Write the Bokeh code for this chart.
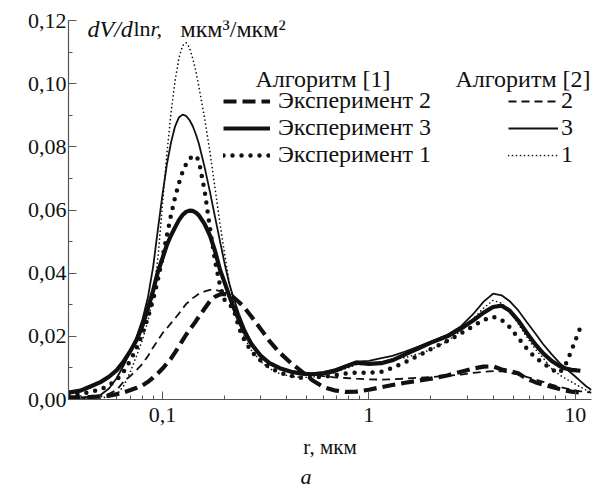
import numpy as np
from bokeh.plotting import figure
from bokeh.models import (FixedTicker, CustomJSTickFormatter, Label, Legend,
                          LegendItem, ColumnDataSource, Title)
from bokeh.embed import file_html
from bokeh.resources import INLINE

NaN = float("nan")

# radius, um
r_um = [0.035, 0.04, 0.045, 0.05, 0.055, 0.06, 0.065, 0.07, 0.075, 0.08,
        0.085, 0.09, 0.095, 0.1, 0.105, 0.11, 0.115, 0.12, 0.125, 0.13,
        0.135, 0.14, 0.145, 0.15, 0.16, 0.17, 0.18, 0.19, 0.2, 0.21,
        0.22, 0.235, 0.25, 0.27, 0.3, 0.33, 0.37, 0.42, 0.47, 0.53,
        0.6, 0.68, 0.77, 0.87, 1.0, 1.15, 1.3, 1.5, 1.75, 2.0,
        2.4, 2.8, 3.2, 3.6, 4.0, 4.4, 4.8, 5.3, 5.8, 6.4,
        7.0, 7.7, 8.4, 9.0, 9.6, 10.2, 10.6, 11.3, 12.0]

# Algorithm [1]
alg1_exp2 = [0.0007, 0.0007, 0.0008, 0.0009, 0.0012, 0.0017, 0.0023, 0.0030, 0.0037, 0.0045,
             0.0056, 0.0069, 0.0083, 0.0098, 0.0114, 0.0130, 0.0149, 0.0168, 0.0187, 0.0205,
             0.0220, 0.0234, 0.0248, 0.0262, 0.0288, 0.0312, 0.0326, 0.0333, 0.0334, 0.0331,
             0.0324, 0.0308, 0.0290, 0.0262, 0.0222, 0.0185, 0.0148, 0.0115, 0.0090, 0.0062,
             0.0040, 0.0029, 0.0024, 0.0025, 0.0031, 0.0039, 0.0046, 0.0053, 0.0060, 0.0066,
             0.0076, 0.0088, 0.0098, 0.0104, 0.0105, 0.0095, 0.0090, 0.0083, 0.0066, 0.0055,
             0.0047, 0.0040, 0.0033, 0.0028, 0.0025, 0.0023, 0.0022, NaN, NaN]
alg1_exp3 = [0.0022, 0.0028, 0.0042, 0.0055, 0.0072, 0.0093, 0.0122, 0.0155, 0.0189, 0.0235,
             0.0290, 0.0345, 0.0405, 0.0448, 0.0490, 0.0520, 0.0545, 0.0568, 0.0584, 0.0594,
             0.0598, 0.0597, 0.0592, 0.0583, 0.0555, 0.0518, 0.0468, 0.0410, 0.0370, 0.0330,
             0.0295, 0.0250, 0.0213, 0.0175, 0.0137, 0.0115, 0.0099, 0.0088, 0.0082, 0.0080,
             0.0083, 0.0090, 0.0104, 0.0117, 0.0113, 0.0115, 0.0124, 0.0143, 0.0163, 0.0180,
             0.0200, 0.0225, 0.0250, 0.0275, 0.0293, 0.0297, 0.0282, 0.0250, 0.0213, 0.0175,
             0.0146, 0.0122, 0.0106, 0.0098, 0.0094, 0.0092, 0.0091, NaN, NaN]
alg1_exp1 = [0.0014, 0.0018, 0.0024, 0.0032, 0.0045, 0.0062, 0.0090, 0.0125, 0.0165, 0.0210,
             0.0260, 0.0315, 0.0380, 0.0450, 0.0520, 0.0585, 0.0640, 0.0685, 0.0720, 0.0745,
             0.0762, 0.0770, 0.0772, 0.0755, 0.0660, 0.0540, 0.0435, 0.0360, 0.0315, 0.0300,
             0.0290, 0.0225, 0.0185, 0.0152, 0.0122, 0.0101, 0.0085, 0.0075, 0.0069, 0.0069,
             0.0072, 0.0076, 0.0082, 0.0085, 0.0084, 0.0088, 0.0100, 0.0118, 0.0140, 0.0160,
             0.0185, 0.0210, 0.0232, 0.0252, 0.0262, 0.0252, 0.0230, 0.0195, 0.0163, 0.0133,
             0.0116, 0.0095, 0.0084, 0.0112, 0.0155, 0.0200, 0.0228, NaN, NaN]

# Algorithm [2]
alg2_exp2 = [0.0003, 0.0004, 0.0006, 0.0010, 0.0018, 0.0030, 0.0058, 0.0075, 0.0094, 0.0113,
             0.0138, 0.0165, 0.0188, 0.0210, 0.0226, 0.0242, 0.0257, 0.0272, 0.0288, 0.0302,
             0.0312, 0.0321, 0.0328, 0.0335, 0.0342, 0.0347, 0.0347, 0.0343, 0.0336, 0.0326,
             0.0310, 0.0260, 0.0215, 0.0178, 0.0142, 0.0117, 0.0100, 0.0090, 0.0085, 0.0080,
             0.0074, 0.0070, 0.0068, 0.0066, 0.0064, 0.0063, 0.0064, 0.0066, 0.0069, 0.0071,
             0.0075, 0.0079, 0.0084, 0.0088, 0.0090, 0.0089, 0.0085, 0.0079, 0.0072, 0.0064,
             0.0056, 0.0047, 0.0040, 0.0035, 0.0031, 0.0028, 0.0026, 0.0024, 0.0022]
alg2_exp3 = [0.0006, 0.0007, 0.0009, 0.0014, 0.0035, 0.0068, 0.0110, 0.0155, 0.0200, 0.0255,
             0.0325, 0.0420, 0.0540, 0.0650, 0.0745, 0.0815, 0.0865, 0.0893, 0.0902, 0.0898,
             0.0885, 0.0866, 0.0840, 0.0810, 0.0735, 0.0655, 0.0575, 0.0500, 0.0430, 0.0370,
             0.0325, 0.0270, 0.0225, 0.0180, 0.0140, 0.0115, 0.0098, 0.0088, 0.0083, 0.0083,
             0.0087, 0.0095, 0.0108, 0.0120, 0.0122, 0.0131, 0.0138, 0.0152, 0.0168, 0.0183,
             0.0205, 0.0232, 0.0270, 0.0310, 0.0335, 0.0330, 0.0312, 0.0282, 0.0247, 0.0210,
             0.0175, 0.0143, 0.0116, 0.0098, 0.0083, 0.0068, 0.0058, 0.0042, 0.0030]
alg2_exp1 = [0.0004, 0.0004, 0.0005, 0.0006, 0.0008, 0.0015, 0.0045, 0.0090, 0.0140, 0.0190,
             0.0250, 0.0325, 0.0450, 0.0620, 0.0780, 0.0910, 0.1010, 0.1080, 0.1120, 0.1130,
             0.1115, 0.1080, 0.1040, 0.0990, 0.0890, 0.0780, 0.0665, 0.0555, 0.0460, 0.0375,
             0.0310, 0.0240, 0.0195, 0.0155, 0.0120, 0.0098, 0.0082, 0.0073, 0.0070, 0.0071,
             0.0076, 0.0085, 0.0098, 0.0110, 0.0113, 0.0120, 0.0128, 0.0133, 0.0145, 0.0158,
             0.0185, 0.0218, 0.0255, 0.0290, 0.0314, 0.0305, 0.0282, 0.0240, 0.0200, 0.0160,
             0.0131, 0.0098, 0.0078, 0.0066, 0.0056, 0.0046, 0.0040, 0.0030, 0.0022]

y_ticks = [0.0, 0.02, 0.04, 0.06, 0.08, 0.10, 0.12]
y_minor = [0.01, 0.03, 0.05, 0.07, 0.09, 0.11]
x_ticks = [0.1, 1, 10]
x_minor = [0.04, 0.05, 0.06, 0.07, 0.08, 0.09, 0.2, 0.3, 0.4, 0.5, 0.6, 0.7,
           0.8, 0.9, 2, 3, 4, 5, 6, 7, 8, 9]

FONT = "Liberation Serif"
INK = "#111111"

src = ColumnDataSource(dict(
    r=np.array(r_um, dtype=float),
    a1e2=np.array(alg1_exp2, dtype=float),
    a1e3=np.array(alg1_exp3, dtype=float),
    a1e1=np.array(alg1_exp1, dtype=float),
    a2e2=np.array(alg2_exp2, dtype=float),
    a2e3=np.array(alg2_exp3, dtype=float),
    a2e1=np.array(alg2_exp1, dtype=float),
))

p = figure(width=608, height=488, x_axis_type="log",
           x_range=(0.035, 12), y_range=(0, 0.12),
           output_backend="svg", toolbar_location=None,
           min_border_left=68, min_border_right=17,
           min_border_top=20, min_border_bottom=84)
p.outline_line_color = None
p.grid.visible = False
p.background_fill_color = "white"
p.border_fill_color = "white"

for ax in (p.xaxis[0], p.yaxis[0]):
    ax.axis_line_color = "#555555"
    ax.axis_line_width = 1.2
    ax.major_tick_line_color = "#555555"
    ax.minor_tick_line_color = "#555555"
    ax.major_tick_in = 8
    ax.major_tick_out = 0
    ax.minor_tick_in = 4
    ax.minor_tick_out = 0
    ax.major_label_text_font = FONT
    ax.major_label_text_font_size = "22px"
    ax.major_label_text_color = INK

p.xaxis.ticker = FixedTicker(ticks=x_ticks, minor_ticks=x_minor)
p.yaxis.ticker = FixedTicker(ticks=y_ticks, minor_ticks=y_minor)
p.xaxis.formatter = CustomJSTickFormatter(code="return tick.toString().replace('.', ',');")
p.yaxis.formatter = CustomJSTickFormatter(code="return tick.toFixed(2).replace('.', ',');")
p.xaxis.major_label_standoff = 8
p.yaxis.major_label_standoff = 2

p.xaxis.axis_label = "r, мкм"
p.xaxis.axis_label_text_font = FONT
p.xaxis.axis_label_text_font_size = "21px"
p.xaxis.axis_label_text_font_style = "normal"
p.xaxis.axis_label_text_color = INK
p.xaxis.axis_label_standoff = 10

caption = Title(text="а", align="left", offset=232, text_font=FONT,
                text_font_size="22px", text_font_style="italic",
                vertical_align="bottom", text_color=INK, standoff=0)
p.add_layout(caption, "below")

# Algorithm [1] (thick)
g_a1e2 = p.line("r", "a1e2", source=src, line_color=INK, line_width=4.2,
                line_dash="13 6")
g_a1e3 = p.line("r", "a1e3", source=src, line_color=INK, line_width=4.2)
g_a1e1 = p.line("r", "a1e1", source=src, line_color=INK, line_width=4.5,
                line_dash="0 9", line_cap="round")
# Algorithm [2] (thin)
g_a2e2 = p.line("r", "a2e2", source=src, line_color=INK, line_width=1.8,
                line_dash="8 5")
g_a2e3 = p.line("r", "a2e3", source=src, line_color=INK, line_width=1.8)
g_a2e1 = p.line("r", "a2e1", source=src, line_color=INK, line_width=1.7,
                line_dash="0 4", line_cap="round")

leg_common = dict(border_line_color=None, background_fill_alpha=0,
                  padding=0, margin=0, spacing=0, glyph_height=24,
                  label_height=24, label_text_font=FONT,
                  label_text_font_size="24px", label_text_color=INK)

leg1 = Legend(items=[LegendItem(label="Эксперимент 2", renderers=[g_a1e2]),
                     LegendItem(label="Эксперимент 3", renderers=[g_a1e3]),
                     LegendItem(label="Эксперимент 1", renderers=[g_a1e1])],
              location=(155, 231), glyph_width=47, label_standoff=8, **leg_common)
leg2 = Legend(items=[LegendItem(label="2", renderers=[g_a2e2]),
                     LegendItem(label="3", renderers=[g_a2e3]),
                     LegendItem(label="1", renderers=[g_a2e1])],
              location=(440, 231), glyph_width=50, label_standoff=3, **leg_common)
p.add_layout(leg1)
p.add_layout(leg2)


def lab(text, x, y, size, style="normal"):
    p.add_layout(Label(x=x, y=y, x_units="screen", y_units="screen", text=text,
                       text_font=FONT, text_font_size=size, text_font_style=style,
                       text_color=INK, text_baseline="alphabetic", text_align="left"))


# legend headers
lab("Алгоритм [1]", 187, 321, "24px")
lab("Алгоритм [2]", 387, 321, "24px")

# y-axis title (inside the frame, top)
lab("dV/d", 19, 371, "24px", "italic")
lab("ln", 65, 371, "22px")
lab("r,", 82, 371, "22px", "italic")
lab("мкм³/мкм²", 112, 371, "24px")

open("out.html", "w").write(file_html(p, INLINE))
